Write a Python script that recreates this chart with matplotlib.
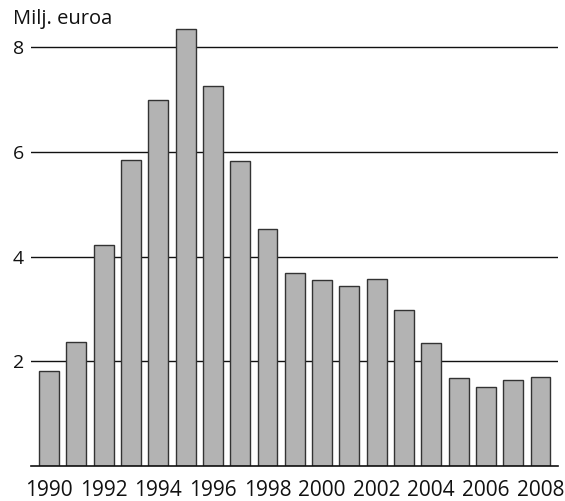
import matplotlib
matplotlib.use("Agg")
import matplotlib.pyplot as plt

years = list(range(1990, 2009))
values = [1.82, 2.37, 4.23, 5.85, 7.00, 8.34, 7.25, 5.83, 4.53, 3.69,
          3.56, 3.44, 3.58, 2.98, 2.35, 1.68, 1.51, 1.64, 1.70]
tick_years = list(range(1990, 2009, 2))
y_ticks = [2, 4, 6, 8]

plt.rcParams["font.family"] = ["Open Sans", "DejaVu Sans"]

fig = plt.figure(figsize=(5.65, 5.01), dpi=100)
ax = fig.add_axes([31 / 565, 35 / 501, 527 / 565, 445 / 501])

ax.bar(years, values, width=0.73, color="#b3b3b3", edgecolor="#333333",
       linewidth=1.0, zorder=3)

ax.set_xlim(1989.34, 2008.64)
ax.set_ylim(0, 8.5)
ax.set_yticks(y_ticks)
ax.set_yticklabels([str(v) for v in y_ticks])
ax.set_xticks(tick_years)
ax.set_xticklabels([str(y) for y in tick_years])
ax.tick_params(axis="both", length=0, labelsize=14, colors="#111111")
ax.tick_params(axis="x", labelsize=15, pad=10)
ax.tick_params(axis="y", pad=5)

ax.grid(axis="y", color="#111111", linewidth=1.0, zorder=0)
for side in ["top", "right", "left"]:
    ax.spines[side].set_visible(False)
ax.spines["bottom"].set_color("#111111")
ax.spines["bottom"].set_linewidth(1.2)
ax.spines["bottom"].set_zorder(4)

fig.text(13 / 565, 1 - 19 / 501, "Milj. euroa", fontsize=14.5, color="#111111",
         ha="left", va="center")

fig.savefig("out.png", dpi=100)
